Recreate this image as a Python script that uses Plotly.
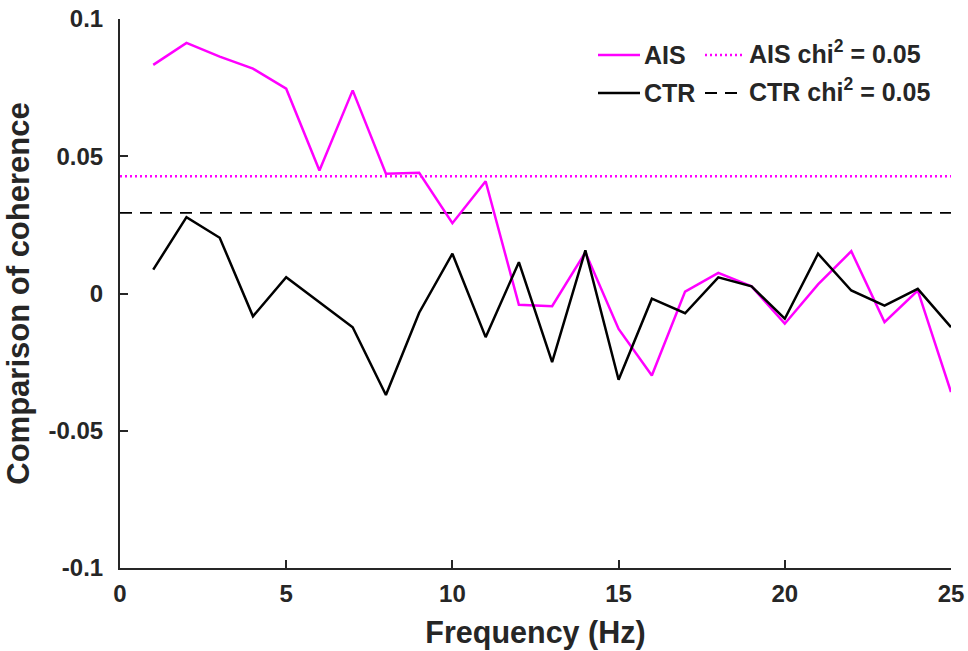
import plotly.graph_objects as go

freq = list(range(1, 26))
ais = [0.0833, 0.0913, 0.0863, 0.0819, 0.0746, 0.0448, 0.0740, 0.0436, 0.0440, 0.0256,
       0.0409, -0.0041, -0.0046, 0.0150, -0.0129, -0.0299, 0.0007, 0.0075, 0.0026, -0.0110,
       0.0033, 0.0154, -0.0104, 0.0011, -0.0359]
ctr = [0.0087, 0.0278, 0.0203, -0.0083, 0.0059, -0.0032, -0.0123, -0.0370, -0.0070, 0.0145,
       -0.0159, 0.0114, -0.0250, 0.0157, -0.0314, -0.0019, -0.0072, 0.0059, 0.0026, -0.0092,
       0.0145, 0.0011, -0.0044, 0.0017, -0.0123]
ais_chi = 0.0427
ctr_chi = 0.0294
x_range = [0, 25]
x_ticks = [0, 5, 10, 15, 20, 25]
y_ticks = [-0.1, -0.05, 0, 0.05, 0.1]
y_tick_labels = ["-0.1", "-0.05", "0", "0.05", "0.1"]

MAG = "#FF00FF"
BLK = "#000000"
TXT = "#262626"
FONT = "Liberation Sans"

fig = go.Figure()
fig.add_trace(go.Scatter(x=x_range, y=[ais_chi, ais_chi], mode="lines",
                         line=dict(color=MAG, width=2.5, dash="2px,3px"), showlegend=False))
fig.add_trace(go.Scatter(x=x_range, y=[ctr_chi, ctr_chi], mode="lines",
                         line=dict(color=BLK, width=1.8, dash="12px,8px"), showlegend=False))
fig.add_trace(go.Scatter(x=freq, y=ais, mode="lines",
                         line=dict(color=MAG, width=2.5), showlegend=False))
fig.add_trace(go.Scatter(x=freq, y=ctr, mode="lines",
                         line=dict(color=BLK, width=2.5), showlegend=False))

W, H = 968, 651
L, R, T, B = 120, 17, 19, 83
pw, ph = W - L - R, H - T - B

def px(x):
    return (x - L) / pw

def py(y):
    return (H - B - y) / ph

legend_rows = [
    (55, "AIS", MAG, "AIS chi<sup>2</sup> = 0.05", MAG, "2px,3px", 2.5),
    (93, "CTR", BLK, "CTR chi<sup>2</sup> = 0.05", BLK, "12px,8px", 1.8),
]
for yy, lab1, c1, lab2, c2, dash2, w2 in legend_rows:
    fig.add_shape(type="line", xref="paper", yref="paper",
                  x0=px(598), x1=px(640), y0=py(yy), y1=py(yy),
                  line=dict(color=c1, width=2.5))
    fig.add_annotation(xref="paper", yref="paper", x=px(642), y=py(yy), text=lab1,
                       showarrow=False, xanchor="left", yanchor="middle",
                       font=dict(family=FONT, size=25, color=TXT, weight="bold"))
    fig.add_shape(type="line", xref="paper", yref="paper",
                  x0=px(705), x1=px(743), y0=py(yy), y1=py(yy),
                  line=dict(color=c2, width=w2, dash=dash2))
    fig.add_annotation(xref="paper", yref="paper", x=px(747), y=py(yy - 3), text=lab2,
                       showarrow=False, xanchor="left", yanchor="middle",
                       font=dict(family=FONT, size=25, color=TXT, weight="bold"))

axis_common = dict(showline=True, linecolor=TXT, linewidth=2, ticks="inside", ticklen=8,
                   tickwidth=2, tickcolor=TXT, showgrid=False, zeroline=False,
                   mirror=False, automargin=False,
                   tickfont=dict(family=FONT, size=24, color=TXT, weight="bold"))

fig.update_layout(
    width=W, height=H,
    margin=dict(l=L, r=R, t=T, b=B),
    paper_bgcolor="white", plot_bgcolor="white",
    xaxis=dict(range=x_range, tickvals=x_ticks, ticklabelstandoff=3,
               title=dict(text="Frequency (Hz)", standoff=16,
                          font=dict(family=FONT, size=30.5, color=TXT, weight="bold")),
               **axis_common),
    yaxis=dict(range=[-0.1, 0.1], tickvals=y_ticks, ticktext=y_tick_labels,
               ticklabelstandoff=10,
               title=dict(text="Comparison of coherence", standoff=10,
                          font=dict(family=FONT, size=31, color=TXT, weight="bold")),
               **axis_common),
)

fig.write_html("out.html")
